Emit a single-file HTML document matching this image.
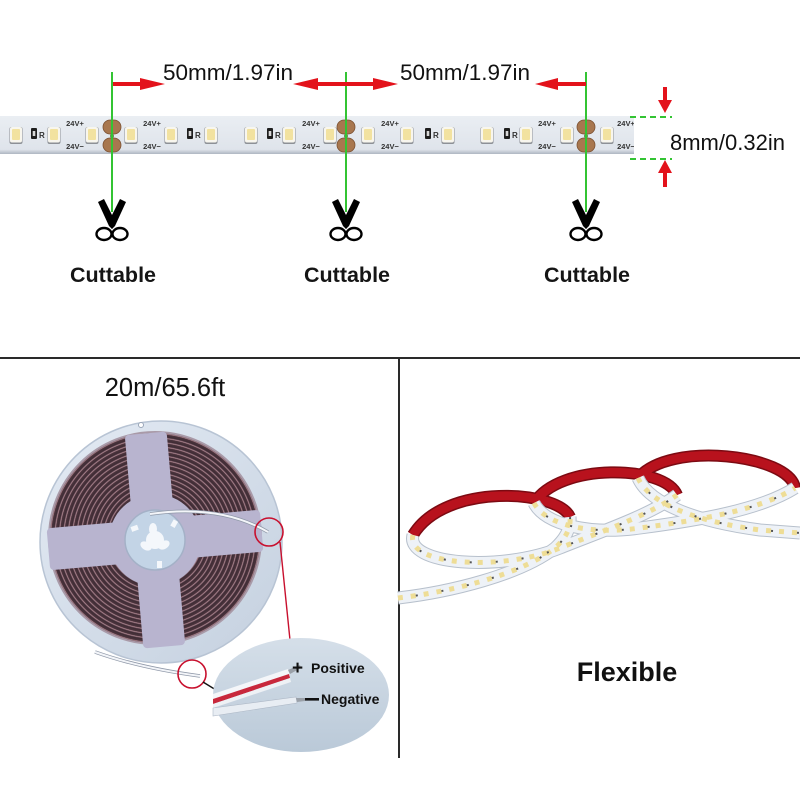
<!DOCTYPE html>
<html><head><meta charset="utf-8"><style>
html,body{margin:0;padding:0;background:#fff;}
svg{display:block;}
text{font-family:"Liberation Sans",Arial,sans-serif;}
</style></head><body>
<svg width="800" height="800" viewBox="0 0 800 800" xmlns="http://www.w3.org/2000/svg">
<defs>
 <radialGradient id="coil" gradientUnits="userSpaceOnUse" cx="155" cy="538" r="4.4" spreadMethod="repeat">
  <stop offset="0" stop-color="#3f2b34"/>
  <stop offset="0.55" stop-color="#4a343d"/>
  <stop offset="0.72" stop-color="#b58a94"/>
  <stop offset="0.86" stop-color="#6f5560"/>
  <stop offset="1" stop-color="#3f2b34"/>
 </radialGradient>
 <linearGradient id="disc" x1="0" y1="0" x2="1" y2="1">
  <stop offset="0" stop-color="#e4ebf4"/><stop offset="1" stop-color="#c4d0df"/>
 </linearGradient>
 <linearGradient id="ell" x1="0" y1="0" x2="0" y2="1">
  <stop offset="0" stop-color="#d5dfe9"/><stop offset="1" stop-color="#bac9d8"/>
 </linearGradient>
 <linearGradient id="stripg" x1="0" y1="0" x2="0" y2="1">
  <stop offset="0" stop-color="#eaeef3"/><stop offset="0.88" stop-color="#dfe4eb"/><stop offset="1" stop-color="#aeb6c2"/>
 </linearGradient>
 <clipPath id="sc"><rect x="0" y="116" width="634" height="38"/></clipPath>
 <g id="led">
  <rect x="-6.5" y="127" width="13" height="17" rx="2" fill="#8d9096"/>
  <rect x="-6" y="127" width="12" height="15.5" rx="2" fill="#f8f6ee"/>
  <rect x="-4" y="129" width="8" height="11" rx="1" fill="#f2e2a0"/>
 </g>
 <g id="res">
  <rect x="-3" y="128" width="6" height="11" rx="1" fill="#1e1e1e"/>
  <rect x="-1.3" y="131" width="2.6" height="5" fill="#d8d8d8"/>
 </g>
 <g id="pad">
  <rect x="-9" y="120" width="18" height="14" rx="7" fill="#a8774f" stroke="#7d5233" stroke-width="0.8"/>
  <rect x="-9" y="138" width="18" height="14" rx="7" fill="#a8774f" stroke="#7d5233" stroke-width="0.8"/>
  <circle cx="0" cy="136" r="2" fill="#6b8a50"/>
 </g>
 <g id="sc1">
  <polygon points="-14,202 -8,199 4,223 0,229 -3,226" fill="#000"/>
  <polygon points="14,202 8,199 -4,223 0,229 3,226" fill="#000"/>
  <ellipse cx="-8" cy="234" rx="7.5" ry="6" fill="#fff" stroke="#000" stroke-width="2.4"/>
  <ellipse cx="8" cy="234" rx="7.5" ry="6" fill="#fff" stroke="#000" stroke-width="2.4"/>
 </g>
</defs>

<rect width="800" height="800" fill="#fff"/>

<!-- ===== TOP: LED strip ===== -->
<g clip-path="url(#sc)">
 <rect x="0" y="116" width="634" height="38" fill="url(#stripg)"/>
 <use href="#pad" x="112"/><use href="#pad" x="346"/><use href="#pad" x="586"/>
 <use href="#led" x="16"/><use href="#led" x="54"/><use href="#led" x="92"/>
 <use href="#led" x="131"/><use href="#led" x="171"/><use href="#led" x="211"/>
 <use href="#led" x="251"/><use href="#led" x="289"/><use href="#led" x="330"/>
 <use href="#led" x="368"/><use href="#led" x="407"/><use href="#led" x="448"/>
 <use href="#led" x="487"/><use href="#led" x="526"/><use href="#led" x="567"/>
 <use href="#led" x="607"/>
 <use href="#res" x="34"/><use href="#res" x="190"/><use href="#res" x="270"/>
 <use href="#res" x="428"/><use href="#res" x="507"/>
 <g font-size="8" font-weight="bold" fill="#333">
  <text x="39" y="138">R</text><text x="195" y="138">R</text><text x="275" y="138">R</text>
  <text x="433" y="138">R</text><text x="512" y="138">R</text>
 </g>
 <g font-size="7.5" font-weight="bold" fill="#333" text-anchor="middle">
  <text x="75" y="126">24V+</text><text x="75" y="149">24V−</text>
  <text x="152" y="126">24V+</text><text x="152" y="149">24V−</text>
  <text x="311" y="126">24V+</text><text x="311" y="149">24V−</text>
  <text x="390" y="126">24V+</text><text x="390" y="149">24V−</text>
  <text x="547" y="126">24V+</text><text x="547" y="149">24V−</text>
  <text x="626" y="126">24V+</text><text x="626" y="149">24V−</text>
 </g>
</g>

<!-- green cut lines -->
<g stroke="#33c433" stroke-width="2">
 <line x1="112" y1="72" x2="112" y2="212"/>
 <line x1="346" y1="72" x2="346" y2="212"/>
 <line x1="586" y1="72" x2="586" y2="212"/>
</g>
<g stroke="#33c433" stroke-width="2" stroke-dasharray="6 4">
 <line x1="630" y1="117" x2="672" y2="117"/>
 <line x1="630" y1="159" x2="672" y2="159"/>
</g>

<!-- red arrows -->
<g fill="#e3121b">
 <rect x="113" y="82" width="30" height="4"/>
 <polygon points="140,78 165,84 140,90"/>
 <rect x="316" y="82" width="30" height="4"/>
 <polygon points="318,78 293,84 318,90"/>
 <rect x="346" y="82" width="30" height="4"/>
 <polygon points="373,78 398,84 373,90"/>
 <rect x="556" y="82" width="30" height="4"/>
 <polygon points="558,78 535,84 558,90"/>
 <rect x="663" y="87" width="4" height="14"/>
 <polygon points="658,100 665,113 672,100"/>
 <rect x="663" y="172" width="4" height="15"/>
 <polygon points="658,173 665,160 672,173"/>
</g>

<g font-size="22.5" fill="#111">
 <text x="163" y="80">50mm/1.97in</text>
 <text x="400" y="80">50mm/1.97in</text>
 <text x="670" y="150" font-size="22">8mm/0.32in</text>
</g>

<!-- scissors -->
<use href="#sc1" x="112"/>
<use href="#sc1" x="346"/>
<use href="#sc1" x="586"/>

<g font-size="21.5" font-weight="bold" fill="#151515" text-anchor="middle">
 <text x="113" y="282">Cuttable</text>
 <text x="347" y="282">Cuttable</text>
 <text x="587" y="282">Cuttable</text>
</g>

<!-- separators -->
<rect x="0" y="357" width="800" height="2" fill="#2a2a2a"/>
<rect x="398" y="358" width="2" height="400" fill="#2a2a2a"/>

<!-- ===== BOTTOM LEFT: reel ===== -->
<text x="165" y="396" font-size="25.5" fill="#111" text-anchor="middle">20m/65.6ft</text>

<circle cx="161" cy="542" r="121" fill="url(#disc)" stroke="#b8c4d4" stroke-width="1.5"/>
<circle cx="141" cy="425" r="2.5" fill="#fff" stroke="#9aa6b8" stroke-width="1"/>
<circle cx="155" cy="538" r="106" fill="url(#coil)"/>
<circle cx="155" cy="538" r="106" fill="none" stroke="#a99aa8" stroke-width="2"/>
<g transform="rotate(-5 155 540)" fill="#b8b4cf">
 <rect x="134" y="433" width="42" height="214" rx="4"/>
 <rect x="48" y="519" width="214" height="42" rx="4"/>
 <circle cx="155" cy="540" r="46"/>
</g>
<circle cx="155" cy="540" r="30" fill="#c3d4e6" stroke="#a4b1c7" stroke-width="1.5"/>
<g fill="#f4f7fb">
 <circle cx="155" cy="540" r="9"/>
 <ellipse cx="153" cy="529" rx="4" ry="6"/>
 <ellipse cx="146" cy="546" rx="6" ry="4" transform="rotate(30 146 546)"/>
 <ellipse cx="164" cy="545" rx="6" ry="4" transform="rotate(-30 164 545)"/>
 <rect x="131" y="526" width="7" height="5" transform="rotate(-20 134 528)"/>
 <rect x="172" y="520" width="5" height="7" transform="rotate(30 174 523)"/>
 <rect x="157" y="561" width="5" height="7"/>
</g>
<path d="M150 514 Q 220 504 268 532" stroke="#8f98a8" stroke-width="3.5" fill="none"/>
<path d="M150 514 Q 220 504 268 532" stroke="#f3f5f9" stroke-width="2" fill="none"/>
<path d="M95 652 Q 140 668 200 676" stroke="#8f98a8" stroke-width="3.5" fill="none"/>
<path d="M95 652 Q 140 668 200 676" stroke="#f3f5f9" stroke-width="2" fill="none"/>

<circle cx="269" cy="532" r="14" fill="none" stroke="#c8102e" stroke-width="1.6"/>
<line x1="280" y1="542" x2="290" y2="640" stroke="#c8102e" stroke-width="1.4"/>
<circle cx="192" cy="674" r="14" fill="none" stroke="#c8102e" stroke-width="1.6"/>
<line x1="203" y1="682" x2="216" y2="690" stroke="#111" stroke-width="1.4"/>

<ellipse cx="301" cy="695" rx="88" ry="57" fill="url(#ell)"/>
<!-- wires in zoom -->
<path d="M213 694 L 288 669 L 290 676 L 213 701 Z" fill="#f4f6f9"/>
<path d="M213 699 L 289 674 L 290 678 L 213 704 Z" fill="#c8283c"/>
<path d="M213 704 L 290 678 L 291 682 L 213 708 Z" fill="#eef1f5"/>
<path d="M288 670 L 300 665 L 301 668 L 290 674 Z" fill="#9aa0a8"/>
<path d="M213 708 L 296 697 L 297 703 L 213 716 Z" fill="#e8edf3" stroke="#aeb8c6" stroke-width="0.6"/>
<path d="M296 698 L 305 698 L 305 701 L 297 702 Z" fill="#9aa0a8"/>
<g font-weight="bold" fill="#111">
 <text x="292" y="674" font-size="19">+</text>
 <text x="311" y="673" font-size="14">Positive</text>
 <rect x="305" y="698" width="14" height="2.6"/>
 <text x="321" y="704" font-size="14">Negative</text>
</g>

<!-- ===== BOTTOM RIGHT: flexible strip ===== -->
<g fill="none" stroke-linecap="butt">
 <g stroke="#7c0a12" stroke-width="12">
  <path d="M570 517 C 558 490, 445 482, 413 535"/>
  <path d="M677 495 C 665 465, 560 462, 534 503"/>
  <path d="M795 488 C 790 455, 670 440, 638 478"/>
 </g>
 <g stroke="#b8121d" stroke-width="9">
  <path d="M570 517 C 558 490, 445 482, 413 535"/>
  <path d="M677 495 C 665 465, 560 462, 534 503"/>
  <path d="M795 488 C 790 455, 670 440, 638 478"/>
 </g>
 <g stroke="#b7c0cc" stroke-width="13">
  <path d="M398 598 C 450 592, 520 575, 555 548 C 566 538, 571 528, 570 517"/>
  <path d="M413 535 C 405 565, 500 572, 560 548 C 600 532, 650 515, 677 495"/>
  <path d="M534 503 C 545 525, 590 535, 640 528 C 700 520, 760 510, 795 488"/>
  <path d="M638 478 C 650 505, 700 522, 760 530 L 800 533"/>
 </g>
 <g stroke="#eef2f7" stroke-width="11">
  <path d="M398 598 C 450 592, 520 575, 555 548 C 566 538, 571 528, 570 517"/>
  <path d="M413 535 C 405 565, 500 572, 560 548 C 600 532, 650 515, 677 495"/>
  <path d="M534 503 C 545 525, 590 535, 640 528 C 700 520, 760 510, 795 488"/>
  <path d="M638 478 C 650 505, 700 522, 760 530 L 800 533"/>
 </g>
 <g stroke="#eedd96" stroke-width="5" stroke-dasharray="5 8">
  <path d="M398 598 C 450 592, 520 575, 555 548 C 566 538, 571 528, 570 517"/>
  <path d="M413 535 C 405 565, 500 572, 560 548 C 600 532, 650 515, 677 495"/>
  <path d="M534 503 C 545 525, 590 535, 640 528 C 700 520, 760 510, 795 488"/>
  <path d="M638 478 C 650 505, 700 522, 760 530 L 800 533"/>
 </g>
 <g stroke="#555" stroke-width="2" stroke-dasharray="2 24" stroke-dashoffset="8">
  <path d="M398 598 C 450 592, 520 575, 555 548 C 566 538, 571 528, 570 517"/>
  <path d="M413 535 C 405 565, 500 572, 560 548 C 600 532, 650 515, 677 495"/>
  <path d="M534 503 C 545 525, 590 535, 640 528 C 700 520, 760 510, 795 488"/>
  <path d="M638 478 C 650 505, 700 522, 760 530 L 800 533"/>
 </g>
</g>

<text x="627" y="681" font-size="27" font-weight="bold" fill="#111" text-anchor="middle">Flexible</text>
</svg>
</body></html>
